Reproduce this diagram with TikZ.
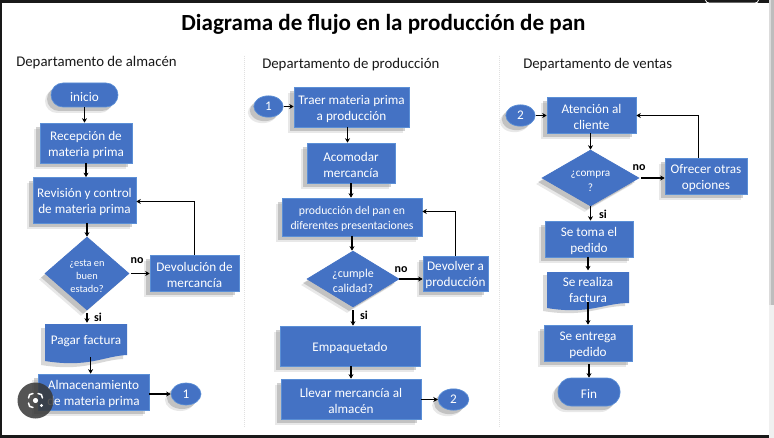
\documentclass[tikz,border=0pt]{standalone}
\usepackage{fontspec}
\setmainfont{Carlito}
\usetikzlibrary{shapes.geometric,arrows.meta}
\definecolor{bluebox}{HTML}{4472C4}
\definecolor{blueedge}{HTML}{5B8FD6}
\newcommand{\lowr}{\rule{0pt}{9.3pt}}
\tikzset{
  x=0.75pt,y=-0.75pt,
  softshadow/.style={preaction={fill=black!45,opacity=.2,transform canvas={xshift=-4.5pt,yshift=-4.5pt}},
    preaction={fill=black!55,opacity=.32,transform canvas={xshift=-3pt,yshift=-3pt}}},
  shape base/.style={fill=bluebox,draw=blueedge,line width=.5pt,text=white,align=center,inner sep=0pt,font=\fontsize{9.9pt}{12.2pt}\selectfont,softshadow},
  decision/.style={shape base,diamond,draw=bluebox},
  bubble/.style={shape base,ellipse},
  doctext/.style={text=white,align=center,inner sep=0pt,font=\fontsize{9.9pt}{12.2pt}\selectfont},
  flowarrow/.style={draw=black,line width=1pt,-{Stealth[length=3.4pt,width=3.8pt]}},
  flowline/.style={draw=black,line width=1pt},
  yesno/.style={font=\fontsize{9pt}{10pt}\selectfont\bfseries,text=black,inner sep=0pt},
  dept/.style={font=\fontsize{11.1pt}{12pt}\selectfont,text=black!90,anchor=west,inner sep=0pt},
  sep/.style={draw=black!12,line width=.5pt,densely dotted},
  docshadow/.style={fill=black!50,opacity=.3}
}
\newcommand{\boxat}[7]{% name, x1,y1,x2,y2, style, text
  \node[shape base,rectangle,#6,minimum width=#4*0.75pt-#2*0.75pt,minimum height=#5*0.75pt-#3*0.75pt] (#1) at ({(#2+#4)/2},{(#3+#5)/2}) {\lowr #7};}
\begin{document}
\begin{tikzpicture}
\useasboundingbox (0,0) rectangle (774,438);
\fill[black!90] (0,0) rectangle (769,438);
\fill[white] (2,3) rectangle (769,435);
\fill[black!6] (769,0) rectangle (774,438);
\fill[black!14] (769,0) rectangle (771,305);
\fill[black!26] (771,0) rectangle (774,305);
\draw[white,line width=.6pt] (705.5,0) .. controls (706,2) and (707,3) .. (709,3) -- (755,3) .. controls (757,3) and (758,2) .. (758.5,0);

\node[font=\fontsize{17.3pt}{18pt}\selectfont\bfseries,text=black,inner sep=0pt] (title) at (383.5,24) {Diagrama de flujo en la producción de pan};

\coordinate (s1a) at (244,56); \coordinate (s1b) at (244,427);
\coordinate (s2a) at (499,56); \coordinate (s2b) at (499,427);
\draw[sep] (s1a) -- (s1b);
\draw[sep] (s2a) -- (s2b);

\node[dept] (d1) at (16,63) {Departamento de almacén};
\node[dept] (d2) at (262,65) {Departamento de producción};
\node[dept] (d3) at (523,64.5) {Departamento de ventas};

% column 1
\boxat{inicio}{51}{83}{118}{107}{rounded corners=9pt}{inicio}
\boxat{recep}{40}{123}{132}{163}{}{Recepción de\\materia prima}
\boxat{revis}{33}{177.5}{136}{223}{}{Revisión y control\\de materia prima}
\node[decision,shape aspect=1.15,minimum width=63pt,minimum height=54.75pt,font=\fontsize{7.8pt}{9.6pt}\selectfont] (q1) at (87,273.5) {\lowr ¿esta en\\buen\\estado?};
\boxat{devol}{150}{255}{239}{291}{}{Devolución de\\mercancía}
\fill[docshadow] (41,328) -- (123,328) -- (123,359) .. controls (100,360) and (85,372) .. (41,365) -- cycle;
\fill[bluebox] (45,324) -- (127,324) -- (127,355) .. controls (104,356) and (89,368) .. (45,361) -- cycle;
\node[doctext,minimum width=61.5pt,minimum height=27pt] (pagar) at (86,341) {Pagar factura};
\boxat{almac}{38}{374}{149}{410}{}{Almacenamiento\\de materia prima}
\node[bubble,minimum width=22.5pt,minimum height=16.5pt] (c1) at (186,394) {1};

\draw[flowarrow] (inicio.south) -- (inicio.south |- recep.north);
\draw[flowarrow] (recep.south) -- (recep.south |- revis.north);
\draw[flowarrow] (q1.north |- revis.south) -- (q1.north);
\coordinate (r1) at (194.5,201.5);
\draw[flowline] (devol.north) -- (devol.north |- r1) coordinate (r1c);
\draw[flowarrow] (r1c) -- (revis.east |- r1c);
\draw[flowarrow,shorten <=1.5pt] (q1.east) -- (devol.west |- q1.east);
\draw[flowarrow,shorten <=2pt] (q1.south) -- (q1.south |- pagar.north);
\draw[flowarrow,shorten <=-1.5pt] ([xshift=2.7pt]q1.south |- pagar.south) -- ([xshift=2.7pt]q1.south |- almac.north);
\draw[flowarrow] (almac.east |- c1) -- (c1.west);
\node[yesno] (no1) at (137,260.5) {no};
\node[yesno] (si1) at (98,317) {si};

% column 2
\node[bubble,minimum width=22pt,minimum height=16pt] (c1b) at (268.5,106.5) {1};
\boxat{traer}{294}{87}{409}{127}{}{Traer materia prima\\a producción}
\boxat{acom}{307}{143}{395}{183}{}{Acomodar\\mercancía}
\boxat{prod}{282}{198}{422}{236}{font=\fontsize{8.8pt}{11pt}\selectfont}{producción del pan en\\diferentes presentaciones}
\node[decision,shape aspect=1.64,minimum width=69pt,minimum height=42pt,font=\fontsize{9pt}{10.8pt}\selectfont] (q2) at (353,279) {\lowr ¿cumple\\calidad?};
\boxat{devo2}{423}{256}{488}{291}{}{Devolver a\\producción}
\boxat{empaq}{280}{326}{420}{366}{}{Empaquetado}
\boxat{llev}{281}{379}{421}{419}{}{Llevar mercancía al\\almacén}
\node[bubble,minimum width=23pt,minimum height=16pt] (c2) at (453.5,399.5) {2};

\draw[flowarrow] (c1b.east) -- (traer.west |- c1b);
\draw[flowarrow] ([xshift=-3pt]traer.south) -- ([xshift=-3pt]traer.south |- acom.north);
\draw[flowarrow] (acom.south) -- (acom.south |- prod.north);
\draw[flowarrow] (prod.south) -- (prod.south |- q2.north);
\coordinate (r2) at (456,211.5);
\draw[flowline] (devo2.north) -- (devo2.north |- r2) coordinate (r2c);
\draw[flowarrow] (r2c) -- (prod.east |- r2c);
\draw[flowarrow] (q2.east) -- (devo2.west |- q2.east);
\draw[flowarrow,shorten <=2.2pt] (q2.south) -- (q2.south |- empaq.north);
\draw[flowarrow] (llev.north |- empaq.south) -- (llev.north);
\draw[flowarrow] (llev.east |- c2) -- (c2.west);
\node[yesno] (no2) at (401,270) {no};
\node[yesno] (si2) at (364,315.5) {si};

% column 3
\node[bubble,minimum width=22pt,minimum height=16pt] (c2b) at (520.5,115.5) {2};
\boxat{atenc}{547}{97}{636}{133}{}{Atención al\\cliente}
\node[decision,shape aspect=1.73,minimum width=72.75pt,minimum height=42pt,font=\fontsize{8.4pt}{11.4pt}\selectfont] (q3) at (590.5,178) {\lowr ¿compra\\?};
\boxat{ofrec}{665}{158}{747}{194}{}{Ofrecer otras\\opciones}
\boxat{toma}{545}{221}{633}{257}{}{Se toma el\\pedido}
\fill[docshadow] (543,275) -- (625,275) -- (625,306) .. controls (600,306) and (585,318) .. (543,311) -- cycle;
\fill[bluebox] (547,272) -- (629,272) -- (629,303) .. controls (604,303) and (589,315) .. (547,308) -- cycle;
\node[doctext,minimum width=61.5pt,minimum height=26pt] (fact) at (588,288) {\lowr Se realiza\\factura};
\boxat{entr}{544}{325}{632}{361}{}{Se entrega\\pedido}
\boxat{fin}{558}{378}{620}{406}{rounded corners=10pt}{Fin}

\draw[flowarrow] (c2b.east) -- (atenc.west |- c2b);
\draw[flowarrow] (q3.north |- atenc.south) -- (q3.north);
\coordinate (r3) at (698.5,115.5);
\draw[flowline] ([xshift=-5.5pt]ofrec.north) -- ([xshift=-5.5pt]ofrec.north |- r3) coordinate (r3c);
\draw[flowarrow] (r3c) -- (atenc.east |- r3c);
\draw[flowarrow,shorten <=1.5pt] (q3.east) -- (ofrec.west |- q3.east);
\draw[flowarrow] (q3.south) -- (q3.south |- toma.north);
\draw[flowarrow] (fact.north |- toma.south) -- (fact.north);
\draw[flowarrow,shorten <=-3pt] (entr.north |- fact.south) -- (entr.north);
\draw[flowarrow,shorten <=2pt] (fin.north |- entr.south) -- (fin.north);
\node[yesno] (no3) at (639,168) {no};
\node[yesno] (si3) at (603,214.5) {si};

% image-search badge of the screenshot
\fill[black!78,opacity=.86] (35.5,400.5) circle (18);
\draw[white,line width=1.1pt,line cap=round]
  (28.5,398) .. controls (28.5,395) and (30,393.5) .. (33,393.5)
  (38,393.5) .. controls (41,393.5) and (42.5,395) .. (42.5,398)
  (28.5,403) .. controls (28.5,406) and (30,407.5) .. (33,407.5);
\fill[white] (35.5,400.5) circle (2.6);
\fill[white] (41.5,405.5) circle (1.6);
\end{tikzpicture}
\end{document}
